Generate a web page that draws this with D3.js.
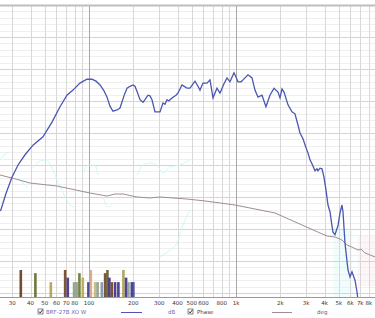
<!DOCTYPE html>
<html>
<head>
<meta charset="utf-8">
<script src="https://cdn.jsdelivr.net/npm/d3@7"></script>
<style>
  html, body { margin: 0; padding: 0; background: #fff; }
  svg { display: block; font-family: "DejaVu Sans", Arial, sans-serif; }
</style>
</head>
<body>
<script>
// SPL trace (Hz, dB)
var splFreq = [25, 27.2, 29.9, 32.9, 36.7, 41.6, 48.6, 56.0, 63.5, 70.8, 77.8, 86.8, 96.9, 104.8, 111.6, 118.8,
  126.5, 132.6, 138.9, 145.6, 155.0, 162.5, 172.9, 181.3, 190.1, 199.2, 205.5, 215.4, 222.3, 232.9, 240.4, 251.9,
  259.9, 268.2, 281.1, 294.6, 304.0, 318.6, 328.7, 339.3, 350.1, 355.6, 372.7, 390.6, 403.0, 429.1, 449.7, 464.1,
  486.4, 525.9, 551.3, 568.8, 596.3, 634.7, 665.3, 697.4, 742.4, 778.1, 828.5, 868.4, 910.1, 968.8, 999.7, 1031,
  1082, 1116, 1207, 1285, 1346, 1411, 1502, 1599, 1702, 1813, 1930, 1992, 2055, 2121, 2258, 2404, 2519, 2640,
  2724, 2855, 2993, 3088, 3186, 3287, 3447, 3556, 3612, 3727, 3846, 3968, 4094, 4224, 4359, 4497, 4568, 4713,
  4940, 5098, 5260, 5343, 5513, 5778, 5963, 6152, 6449, 6654, 6759];
var splDb = [67.8, 70.5, 73.1, 75.0, 76.6, 78.1, 79.4, 81.7, 84.1, 85.9, 86.7, 87.8, 88.4, 88.4, 88.1, 87.5,
  86.6, 85.6, 84.2, 83.4, 83.6, 83.9, 85.8, 87.0, 87.3, 87.5, 87.3, 86.1, 85.2, 84.8, 85.2, 85.9,
  85.8, 85.2, 83.3, 83.3, 83.3, 84.7, 84.5, 85.2, 85.0, 85.2, 85.6, 85.9, 86.25, 87.5, 87.2, 87.0,
  87.0, 88.1, 87.3, 86.7, 87.8, 87.8, 88.3, 85.5, 87.0, 86.25, 87.7, 88.6, 88.0, 89.4, 88.75, 88.0,
  88.0, 88.3, 89.1, 88.6, 86.7, 85.6, 85.9, 84.1, 85.9, 87.0, 86.4, 85.5, 86.9, 86.4, 84.4, 83.3, 83.0, 81.25,
  80.0, 79.1, 77.7, 76.9, 75.8, 75.2, 74.1, 74.4, 74.1, 74.5, 74.4, 73.1, 71.1, 68.75, 67.7, 65.5, 64.5, 64.1,
  65.5, 67.5, 68.75, 67.7, 62.8, 58.6, 57.5, 58.3, 57.0, 55.2, 53.9];

// phase trace (Hz, deg)
var phaseFreq = [24.8, 29.9, 39.7, 60.6, 101.6, 132.6, 150.2, 170.3, 212.1, 259.9, 304.0, 464.1, 615.2, 984.2,
  1346, 1841, 2811, 3727, 4159, 4713, 5260, 5688, 6152, 6759, 7100, 7542, 8000, 8819];
var phaseDeg = [-29.6, -33.3, -39.5, -43.2, -51.8, -55.5, -53.0, -53.0, -56.7, -57.9, -56.7, -59.2, -61.6, -66.6,
  -71.5, -76.4, -91.2, -101.1, -104.8, -106.0, -109.7, -115.9, -118.4, -122.1, -121.0, -125.8, -127.5, -130.7];

// faint cyan trace (Hz, deg), null = gap
var cyanFreq = [24.8, 26.4, 29.0, null, 32.9, 36.1, 38.4, null, 41.6, 46.4, 51.0, 56.0, 61.5, 67.6, 74.3, 79.0, null,
  91.0, 98.4, 109.8, 115.1, null, 124.5, 134.6, 145.6, null, 212.1, 232.9, 259.9, 290.0, 318.6, 355.6, 415.8, 486.4, null,
  304.0, 355.6, 396.8, 435.9, 486.4];
var cyanDeg = [-11.1, -4.9, -1.2, null, -33.3, -40.7, -45.6, null, -21.0, -12.3, -11.1, -21.0, -38.2, -54.2, -66.6, -69.0, null,
  -27.1, -17.3, -17.3, -29.6, null, -56.7, -69.0, -64.1, null, -29.6, -17.3, -14.8, -17.3, -27.1, -19.7, -17.3, -11.1, null,
  -130.7, -122.1, -113.4, -91.2, -72.7];

// markers along the bottom (Hz, top in dB, colour)
var barFreq = [34.3, 43.1, 54.9, 68.7, 71.6, 79.0, 82.2, 85.9, 90.6, 98.9, 102.7, 109.8, 114.2, 122.0, 128.5, 133.2,
  137.4, 142.7, 150.2, 158.2, 171.1, 178.4, 185.0, 195.2, 200.1];
var barDb = [58.6, 58.1, 56.7, 58.6, 57.4, 56.7, 56.7, 58.1, 57.4, 56.7, 58.6, 56.7, 56.7, 56.7, 58.1, 58.6,
  57.4, 56.7, 56.7, 56.7, 58.6, 57.4, 56.7, 56.7, 56.7];
var barColor = ["#5e3b1c", "#5f6b2c", "#aaa24a", "#6e4420", "#3c2f86", "#8b9a8a", "#8b9a8a", "#66752f", "#b4aa52",
  "#3a3a86", "#d6a58a", "#c9b577", "#8b9a8a", "#7f91a8", "#6e4420", "#5f5a2c", "#3c2f86", "#6e4420", "#3c2f86",
  "#3c2f86", "#a8a04a", "#3c2f86", "#8b9a8a", "#3c2f86", "#4a4a9a"];

// shaded frequency bands near the bottom (Hz)
var cyanBand = [4600, 6200];
var pinkBand = [6700, 8822];

var xTicks = [30, 40, 50, 60, 70, 80, 100, 200, 300, 400, 500, 600, 800, 1000, 2000, 3000, 4000, 5000, 6000, 7000, 8000];
var xGrid = [30, 40, 50, 60, 70, 80, 90, 100, 200, 300, 400, 500, 600, 700, 800, 900, 1000, 2000, 3000, 4000, 5000, 6000, 7000, 8000];

var W = 375, H = 318;
var plotTop = 6, plotBottom = 297;

var svg = d3.select('body').append('svg').attr('width', W).attr('height', H);
svg.append('rect').attr('width', W).attr('height', H).attr('fill', '#fff');

var x = d3.scaleLog().domain([24.8, 8822]).range([0, W]);
var y = d3.scaleLinear().domain([100, 54.375]).range([5, 297]);
var yPh = d3.scaleLinear().domain([180, -180]).range([5, 297]);

var plot = svg.append('g');
plot.append('clipPath').attr('id', 'clip').append('rect')
  .attr('x', 0).attr('y', plotTop).attr('width', W).attr('height', plotBottom - plotTop);

// faint shaded bands
plot.append('rect').attr('x', x(cyanBand[0])).attr('width', x(cyanBand[1]) - x(cyanBand[0]))
  .attr('y', 228).attr('height', plotBottom - 228).attr('fill', '#effdfd');
plot.append('rect').attr('x', x(pinkBand[0])).attr('width', x(pinkBand[1]) - x(pinkBand[0]))
  .attr('y', 236).attr('height', 50).attr('fill', '#fef5f7');

// horizontal grid: minor every dB, major every 5 dB
var minor = d3.range(55, 101, 1);
plot.selectAll('.hmin').data(minor).enter().append('line')
  .attr('x1', 0).attr('x2', W)
  .attr('y1', function(d) { return Math.round(y(d)) + 0.5; })
  .attr('y2', function(d) { return Math.round(y(d)) + 0.5; })
  .attr('stroke', function(d) { return d % 5 === 0 ? '#d4d4d4' : '#efefef'; })
  .attr('stroke-width', 1);

// vertical grid
plot.selectAll('.vg').data(xGrid).enter().append('line')
  .attr('x1', function(d) { return Math.round(x(d)) + 0.5; })
  .attr('x2', function(d) { return Math.round(x(d)) + 0.5; })
  .attr('y1', plotTop).attr('y2', plotBottom)
  .attr('stroke', function(d) { return (d === 100 || d === 1000) ? '#a8a8a8' : '#d8d8d8'; })
  .attr('stroke-width', 1);

// top border
svg.append('line').attr('x1', 0).attr('x2', W).attr('y1', 5.5).attr('y2', 5.5)
  .attr('stroke', '#bdbdbd').attr('stroke-width', 2);

// bottom markers
plot.selectAll('.bar').data(barFreq).enter().append('rect')
  .attr('x', function(d) { return x(d) - 1.2; })
  .attr('width', 2.6)
  .attr('y', function(d, i) { return y(barDb[i]); })
  .attr('height', function(d, i) { return plotBottom - y(barDb[i]); })
  .attr('fill', function(d, i) { return barColor[i]; })
  .attr('opacity', 0.9);

// cyan trace
var cyLine = d3.line().defined(function(d) { return d[0] !== null; })
  .x(function(d) { return x(d[0]); }).y(function(d) { return yPh(d[1]); }).curve(d3.curveMonotoneX);
plot.append('path').datum(d3.zip(cyanFreq, cyanDeg))
  .attr('d', cyLine).attr('fill', 'none').attr('stroke', '#c6f7f7').attr('stroke-width', 0.9)
  .attr('clip-path', 'url(#clip)');

// phase trace
var phLine = d3.line().x(function(d) { return x(d[0]); }).y(function(d) { return yPh(d[1]); });
plot.append('path').datum(d3.zip(phaseFreq, phaseDeg))
  .attr('d', phLine).attr('fill', 'none').attr('stroke', '#a08c98').attr('stroke-width', 1)
  .attr('clip-path', 'url(#clip)');

// SPL trace
var splLine = d3.line().x(function(d) { return x(d[0]); }).y(function(d) { return y(d[1]); });
plot.append('path').datum(d3.zip(splFreq, splDb))
  .attr('d', splLine).attr('fill', 'none').attr('stroke', '#4b56b0').attr('stroke-width', 1.3)
  .attr('clip-path', 'url(#clip)');

// bottom axis
svg.append('line').attr('x1', 0).attr('x2', W).attr('y1', plotBottom + 0.5).attr('y2', plotBottom + 0.5)
  .attr('stroke', '#9a9a9a');
var fmt = function(d) { return d >= 1000 ? (d / 1000) + 'k' : String(d); };
svg.selectAll('.xt').data(xTicks).enter().append('text')
  .attr('x', function(d) { return x(d); }).attr('y', 304.5)
  .attr('text-anchor', 'middle').attr('font-size', 5.5).attr('fill', '#333')
  .text(fmt);

// legend
function checkbox(cx) {
  var g = svg.append('g').attr('transform', 'translate(' + cx + ',309)');
  g.append('rect').attr('width', 5).attr('height', 5).attr('fill', '#fff').attr('stroke', '#555').attr('stroke-width', 0.7);
  g.append('path').attr('d', 'M1,2.5 L2.2,4 L4.5,0.8').attr('fill', 'none').attr('stroke', '#222').attr('stroke-width', 0.9);
}
checkbox(38);
svg.append('text').attr('x', 46).attr('y', 314).attr('font-size', 5.5).attr('fill', '#6a6ab8').text('BRF-27B XO W');
svg.append('line').attr('x1', 121).attr('x2', 142).attr('y1', 312.5).attr('y2', 312.5).attr('stroke', '#5a4fb5').attr('stroke-width', 1);
svg.append('text').attr('x', 168).attr('y', 314).attr('font-size', 5.5).attr('fill', '#6a6ab8').text('dB');
checkbox(188);
svg.append('text').attr('x', 197).attr('y', 314).attr('font-size', 5.5).attr('fill', '#444').text('Phase');
svg.append('line').attr('x1', 272).attr('x2', 292).attr('y1', 312.5).attr('y2', 312.5).attr('stroke', '#a08c98').attr('stroke-width', 1);
svg.append('text').attr('x', 317).attr('y', 314).attr('font-size', 5.5).attr('fill', '#666').text('deg');
</script>
</body>
</html>
